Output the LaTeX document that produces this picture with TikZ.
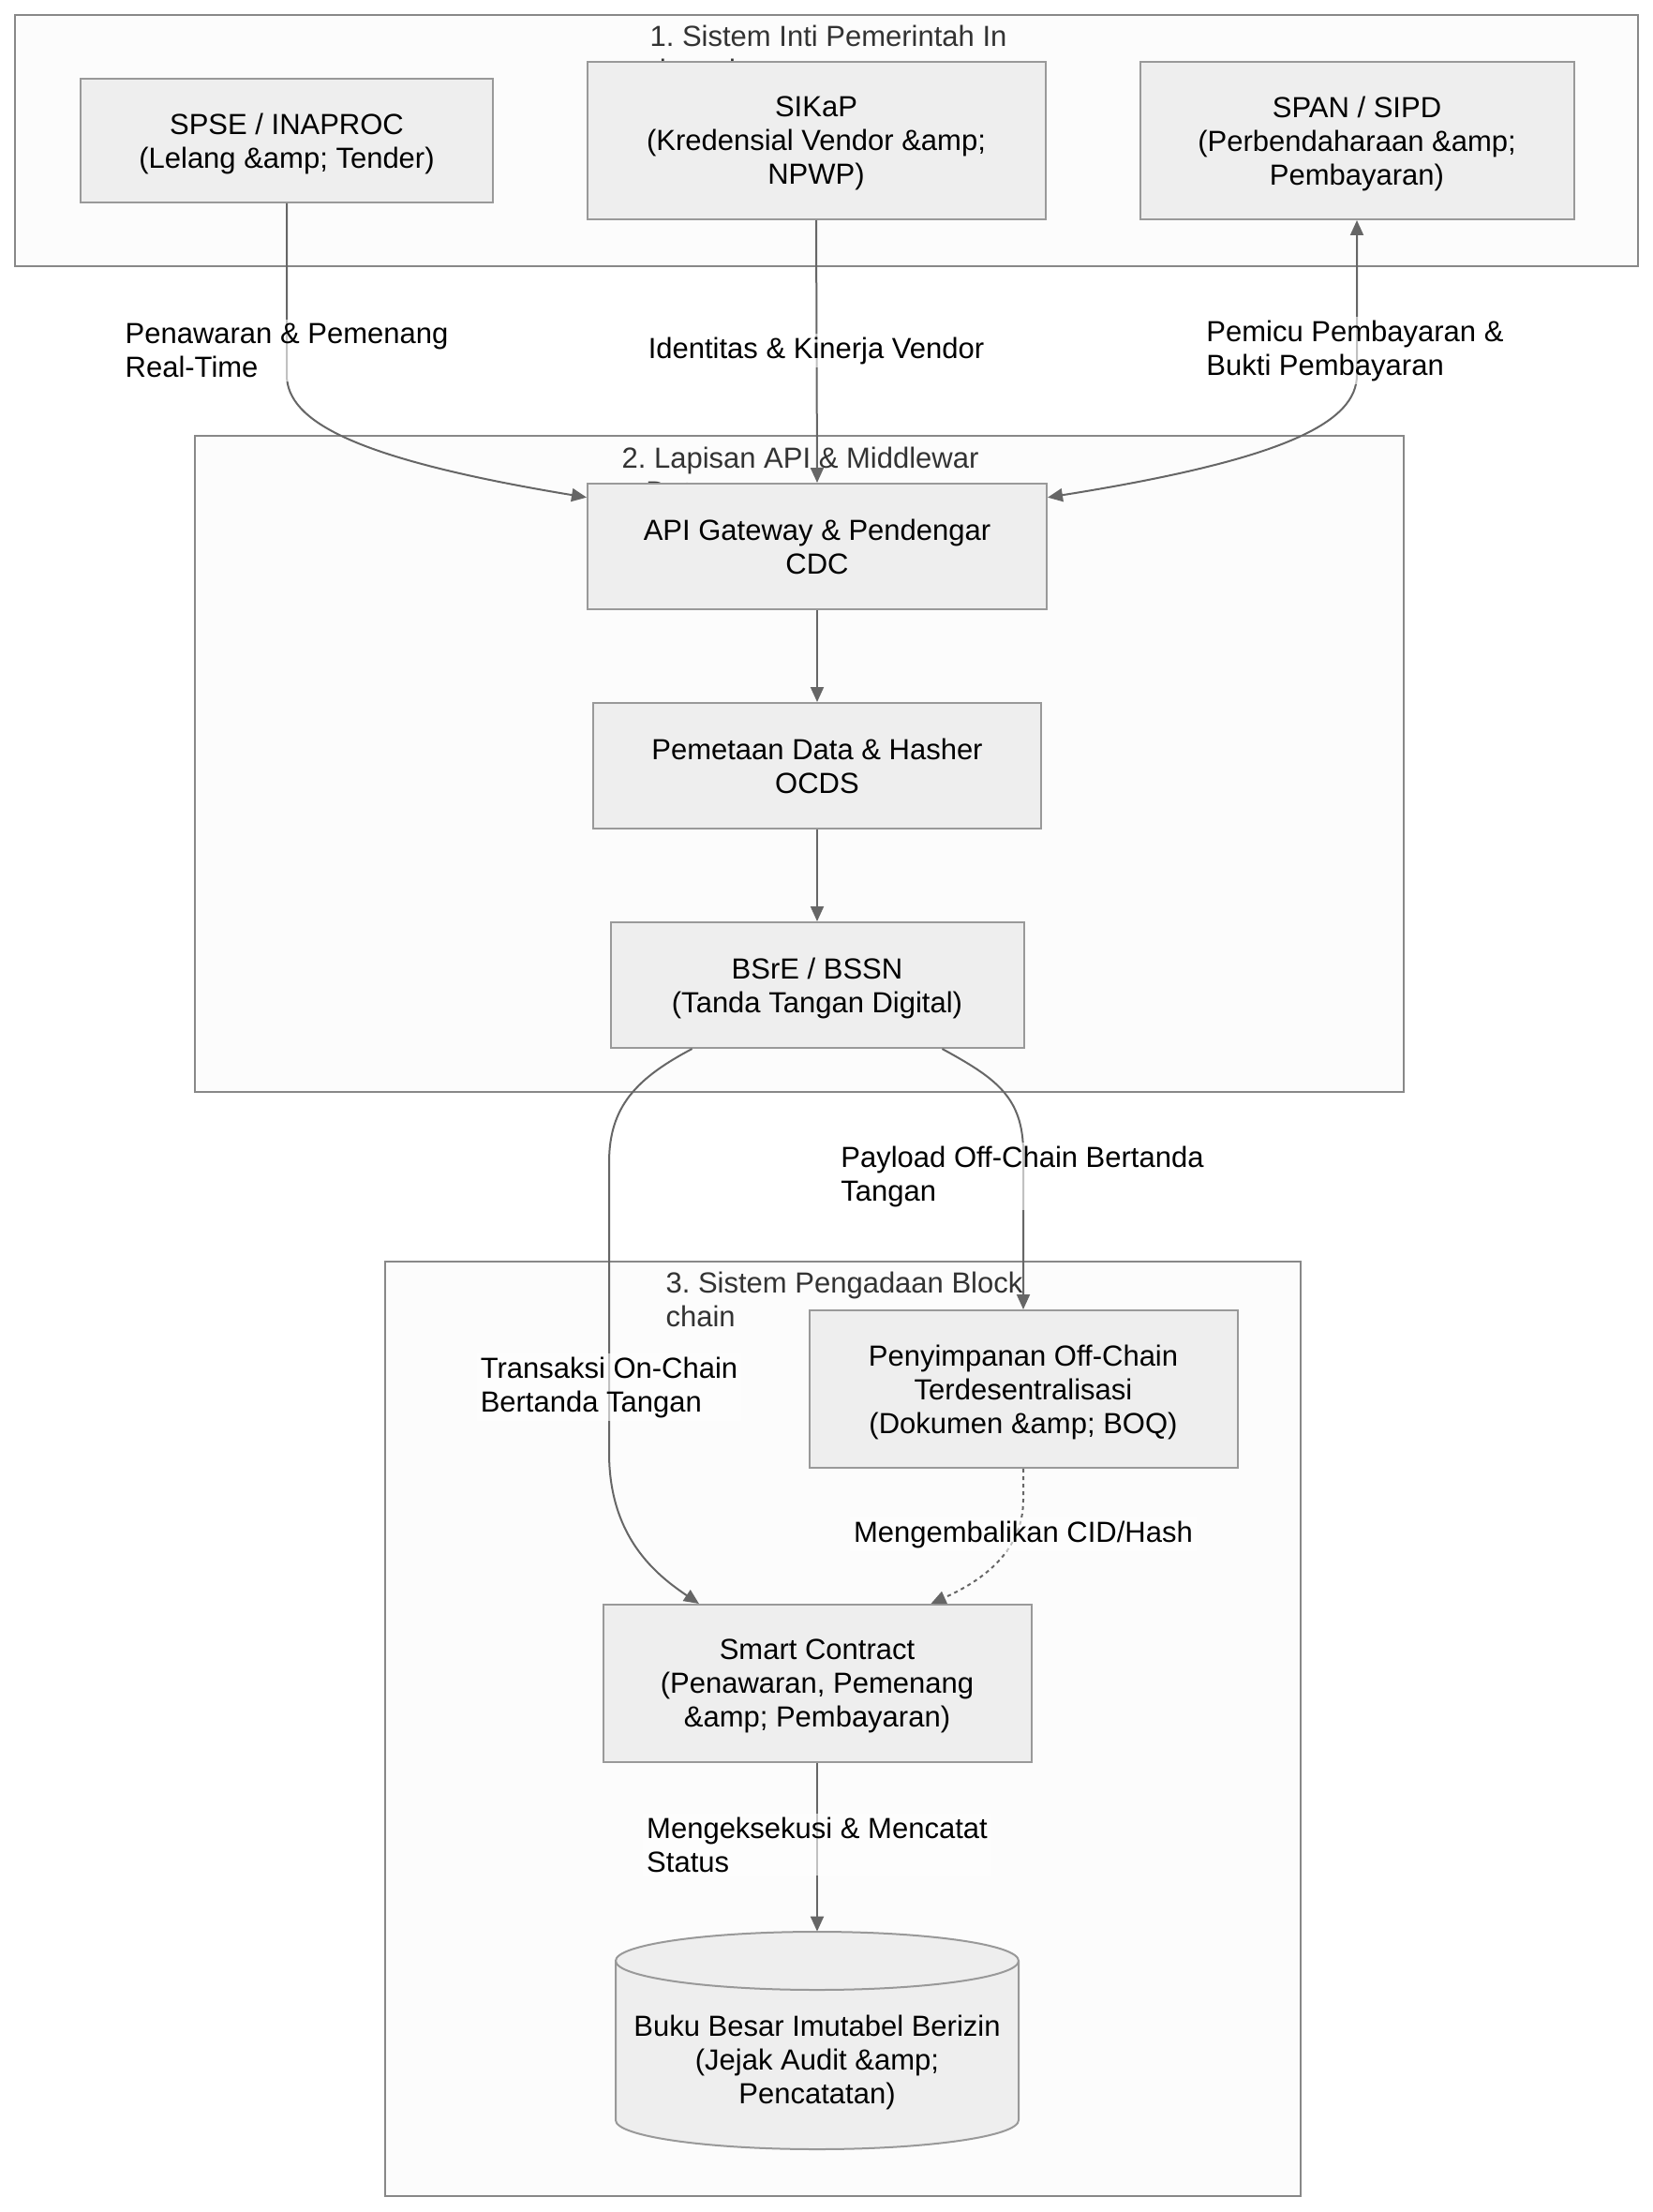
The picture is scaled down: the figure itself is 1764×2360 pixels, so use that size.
\documentclass[tikz,border=0pt]{standalone}
\usepackage{fontspec}
\setmainfont{Liberation Sans}
\usepackage{tikz}
\usetikzlibrary{arrows.meta}
\usetikzlibrary{positioning}
\frenchspacing

\definecolor{isikotak}{HTML}{EEEEEE}
\definecolor{tepikotak}{HTML}{999999}
\definecolor{warnapanah}{HTML}{666666}
\definecolor{isigrup}{HTML}{FCFCFC}
\definecolor{tepigrup}{HTML}{888888}
\definecolor{warnajudul}{HTML}{333333}

\begin{document}
\begin{tikzpicture}[x=0.5pt, y=-0.5pt, >={Triangle[length=8pt, width=7pt]}, node distance=117pt,
		font=\fontsize{15.5}{18}\selectfont]
			\tikzstyle{kotak}=[draw=tepikotak, fill=isikotak, line width=1pt, align=center, inner sep=0pt, minimum height=67pt, text depth=0pt]
			\tikzstyle{grup}=[draw=tepigrup, fill=isigrup, line width=1pt]
			\tikzstyle{judul}=[text=warnajudul, align=left, anchor=north, inner sep=0pt]
			\tikzstyle{panah}=[->, draw=warnapanah, line width=1pt]
			\tikzstyle{keterangan}=[fill=white, fill opacity=0.6, text opacity=1, align=left, inner sep=2pt]
			
			\fill[white] (0,0) rectangle (1764,2360);
			\useasboundingbox (0,0) rectangle (1764,2360);
			
			% kelompok
			\draw[grup] (16,16) rectangle (1748,284);
			\draw[grup] (208,465) rectangle (1498,1165);
			\draw[grup] (411,1346) rectangle (1388,2343);
			\node[judul] (judul1) at (884,27) {1. Sistem Inti Pemerintah In\\donesia};
			\node[judul] (judul2) at (854,477) {2. Lapisan API \& Middlewar\\e Data};
			\node[judul] (judul3) at (901,1357) {3. Sistem Pengadaan Block\\chain};
			
			% simpul
			\node[kotak, minimum width=220pt, minimum height=66pt] (spse) at (306,150) {SPSE / INAPROC\\(Lelang \&amp; Tender)};
			\node[kotak, minimum width=244.5pt, minimum height=84pt] (sikap) at (871,150) {SIKaP\\(Kredensial Vendor \&amp;\\NPWP)};
			\node[kotak, minimum width=231.5pt, minimum height=84pt] (span) at (1448,150) {SPAN / SIPD\\(Perbendaharaan \&amp;\\Pembayaran)};
			
			\node[kotak, minimum width=245pt] (api) at (872,583) {API Gateway \& Pendengar\\CDC};
			\node[kotak, minimum width=239pt] (pemetaan)[below of=api] {Pemetaan Data \& Hasher\\OCDS};
			\node[kotak, minimum width=220.5pt] (bsre)[below of=pemetaan] {BSrE / BSSN\\(Tanda Tangan Digital)};
			
			\node[kotak, minimum width=228.5pt, minimum height=84pt] (simpan) at (1092,1482) {Penyimpanan Off-Chain\\Terdesentralisasi\\(Dokumen \&amp; BOQ)};
			\node[kotak, minimum width=228.5pt, minimum height=84pt] (kontrak) at (872,1796) {Smart Contract\\(Penawaran, Pemenang\\\&amp; Pembayaran)};
			\node[minimum width=215pt, minimum height=116pt, inner sep=0pt] (buku) at (872,2177) {};
			\filldraw[draw=tepikotak, fill=isikotak, line width=1pt] (657,2092) -- (657,2262)
			arc[start angle=180, end angle=0, x radius=215, y radius=31] -- (1087,2092)
			arc[start angle=0, end angle=-180, x radius=215, y radius=31] -- cycle;
			\draw[tepikotak, line width=1pt] (657,2092) arc[start angle=180, end angle=0, x radius=215, y radius=31];
			\node[align=center, inner sep=0pt] (bukuteks) at (872,2200) {Buku Besar Imutabel Berizin\\(Jejak Audit \&amp;\\Pencatatan)};
			
			% panah
			\draw[panah] (spse.south) -- (306,400) .. controls (306,450) and (380,490) .. (api.168);
			\draw[panah] (sikap.south) -- (api.north);
			\draw[panah, <->] (span.south) -- (1448,400) .. controls (1448,450) and (1374,490) .. (api.12);
			\draw[panah] (api) -- (pemetaan);
			\draw[panah] (pemetaan) -- (bsre);
			\draw[panah] (bsre.207) .. controls (680,1150) and (650,1180) .. (650,1240) -- (650,1550)
			.. controls (650,1640) and (700,1680) .. (kontrak.146);
			\draw[panah] (bsre.333) .. controls (1062,1150) and (1092,1170) .. (1092,1230) -- (simpan.north);
			\draw[panah, dash pattern=on 2pt off 2pt] (simpan.south) -- (1092,1600)
			.. controls (1092,1660) and (1040,1690) .. (kontrak.35);
			\draw[panah] (kontrak.south) -- (buku.north);
			
			% keterangan
			\node[keterangan] (ket1) at (306,374) {Penawaran \& Pemenang\\Real-Time};
			\node[keterangan] (ket2) at (871,374) {Identitas \& Kinerja Vendor};
			\node[keterangan] (ket3) at (1446,374) {Pemicu Pembayaran \&\\Bukti Pembayaran};
			\node[keterangan] (ket4) at (1091,1255) {Payload Off-Chain Bertanda\\Tangan};
			\node[keterangan] (ket5) at (650,1480) {Transaksi On-Chain\\Bertanda Tangan};
			\node[keterangan] (ket6) at (1092,1637) {Mengembalikan CID/Hash};
			\node[keterangan] (ket7) at (872,1968) {Mengeksekusi \& Mencatat\\Status};
		\end{tikzpicture}
\end{document}
